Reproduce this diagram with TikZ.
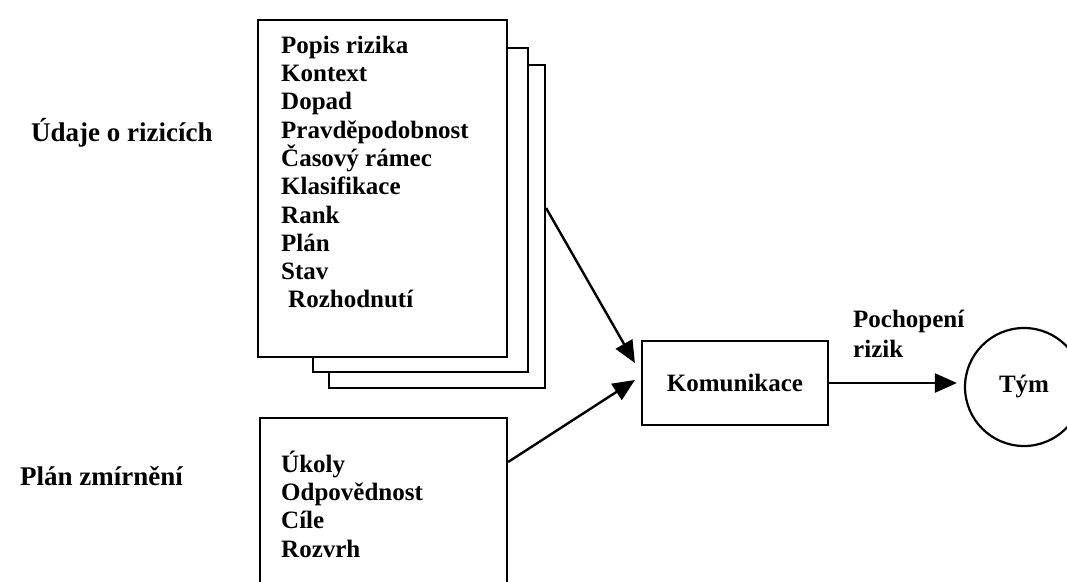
\documentclass[tikz,border=0pt]{standalone}
\usepackage{fontspec}
\setmainfont{Liberation Serif}
\usetikzlibrary{arrows.meta}
\begin{document}
\begin{tikzpicture}[x=1pt,y=-1pt,
  page/.style={draw, line width=2.2pt, fill=white, rectangle, inner sep=0pt},
  listtext/.style={anchor=north west, inner sep=0pt, align=left,
    font=\fontsize{25}{28.3}\selectfont\bfseries},
  sidelabel/.style={anchor=base west, inner sep=0pt,
    font=\fontsize{27}{30}\selectfont\bfseries},
  boxtext/.style={font=\fontsize{25}{28.3}\selectfont\bfseries},
  link/.style={line width=2.4pt, -{Triangle[length=22pt,width=19pt]}},
]
\useasboundingbox (0,0) rectangle (1067,581);
\clip (0,0) rectangle (1067,581);

% stacked sheets of the risk record
\node[page, minimum width=216pt, minimum height=323pt] (back) at (437,226.5) {};
\node[page, minimum width=215pt, minimum height=324pt] (mid) at (420.5,210) {};
\node[page, minimum width=249pt, minimum height=337pt] (front) at (382.5,188.5) {};
\node[listtext] (risklist) at (281,29) {\rule{0pt}{24pt}Popis rizika\\Kontext\\Dopad\\Pravděpodobnost\\Časový rámec\\Klasifikace\\Rank\\Plán\\Stav\\\hspace*{7pt}Rozhodnutí};

% mitigation plan sheet
\node[page, minimum width=247pt, minimum height=202pt] (plan) at (383.5,519) {};
\node[listtext] (planlist) at (281,448) {\rule{0pt}{24pt}Úkoly\\Odpovědnost\\Cíle\\Rozvrh};

% side captions
\node[sidelabel] (riskcap) at (31,141) {Údaje o rizicích};
\node[sidelabel] (plancap) at (20,485) {Plán zmírnění};

% communication and team
\node[page, boxtext, minimum width=186pt, minimum height=84pt] (kom) at (735,383) {Komunikace};
\node[draw, circle, line width=2.2pt, boxtext, minimum size=118pt, inner sep=0pt] (tym) at (1024,387) {Tým};

\draw[link] ([yshift=18.5pt]back.east) -- ([xshift=-6pt,yshift=20pt]kom.west);
\draw[link] ([yshift=57pt]plan.east) -- ([xshift=-6pt,yshift=3pt]kom.west);
\draw[link, shorten >=7pt] (kom.east) -- (kom.east -| tym.west);

\node[anchor=north west, inner sep=0pt, align=left,
  font=\fontsize{25}{30}\selectfont\bfseries] (flowlabel) at (853,303) {\rule{0pt}{24pt}Pochopení\\rizik};
\end{tikzpicture}
\end{document}
